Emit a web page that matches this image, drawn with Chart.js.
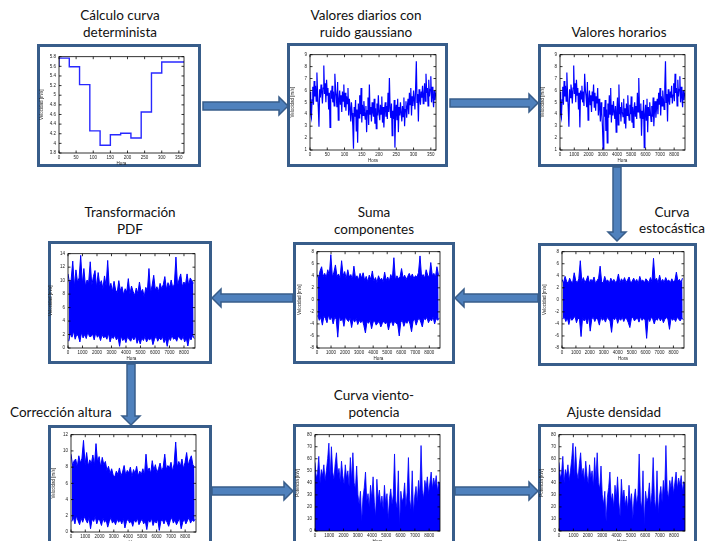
<!DOCTYPE html>
<html><head><meta charset="utf-8">
<script src="https://cdn.jsdelivr.net/npm/chart.js@4/dist/chart.umd.min.js"></script>
<style>
html,body{margin:0;padding:0;background:#fff;width:705px;height:541px;overflow:hidden;position:relative;font-family:Lato,"Open Sans",sans-serif;}
.frame{position:absolute;box-sizing:border-box;border:3px solid #385D8A;background:#fff;}
.t{position:absolute;font-size:13.5px;color:#111;line-height:17px;text-align:center;white-space:nowrap;width:200px;}
canvas{position:absolute;}
svg{position:absolute;left:0;top:0;}
</style></head><body>
<div class="frame" style="left:37px;top:44px;width:164px;height:123px"></div>
<div class="frame" style="left:287px;top:43px;width:161px;height:124px"></div>
<div class="frame" style="left:538px;top:44px;width:159px;height:123px"></div>
<div class="frame" style="left:48px;top:241px;width:164px;height:123px"></div>
<div class="frame" style="left:293px;top:242px;width:162px;height:122px"></div>
<div class="frame" style="left:538px;top:243px;width:159px;height:123px"></div>
<div class="frame" style="left:48px;top:425px;width:164px;height:130px"></div>
<div class="frame" style="left:293px;top:424px;width:162px;height:130px"></div>
<div class="frame" style="left:538px;top:424px;width:159px;height:130px"></div>

<svg width="705" height="541">
<g fill="#4F81BD" stroke="#385D8A" stroke-width="1.5">
<polygon points="203,102 279,102 279,97 288,106 279,115 279,110 203,110"/>
<polygon points="450,99 529,99 529,94 538,103 529,112 529,107 450,107"/>
<polygon points="613,167 621,167 621,232 626,232 617,241 608,232 613,232"/>
<polygon points="538,294 464,294 464,289 455,298 464,307 464,302 538,302"/>
<polygon points="293,294 221,294 221,289 212,298 221,307 221,302 293,302"/>
<polygon points="127,364 135,364 135,416 140,416 131,425 122,416 127,416"/>
<polygon points="212,487 284,487 284,482 293,491 284,500 284,495 212,495"/>
<polygon points="455,487 529,487 529,482 538,491 529,500 529,495 455,495"/>
</g></svg>

<div class="t" style="left:20px;top:7px">Cálculo curva<br>determinista</div>
<div class="t" style="left:266px;top:7px">Valores diarios con<br>ruido gaussiano</div>
<div class="t" style="left:519px;top:24px">Valores horarios</div>
<div class="t" style="left:30px;top:204px">Transformación<br>PDF</div>
<div class="t" style="left:274px;top:204px">Suma<br>componentes</div>
<div class="t" style="left:572px;top:204px;line-height:16px">Curva<br>estocástica</div>
<div class="t" style="left:10px;top:404px;text-align:left">Corrección altura</div>
<div class="t" style="left:274px;top:387px">Curva viento-<br>potencia</div>
<div class="t" style="left:514px;top:404px">Ajuste densidad</div>

<script>
// ---- data ----
const detDays  = [0,30,60,90,120,150,180,210,240,270,300,330,365];
const detSpeed = [5.59,5.77,5.59,5.22,4.26,3.96,4.18,4.21,4.11,4.65,5.46,5.69,5.69];

const dailyWind = [
5.9,4.0,3.7,5.2,6.3,4.8,6.8,5.5,6.4,5.1,7.5,
5.8,4.6,2.95,6.1,5.4,6.5,5.9,4.9,6.2,8.1,
5.7,6.6,5.0,6.9,5.6,6.2,4.4,5.8,2.9,6.0,
5.3,6.4,5.0,5.9,4.7,7.4,6.1,5.5,4.6,6.7,
3.5,5.2,6.0,4.8,5.6,4.2,5.9,5.1,6.5,4.6,
5.8,4.3,5.5,4.9,6.2,3.9,5.3,4.5,3.4,5.0,
4.1,3.0,1.1,4.6,3.8,5.2,2.6,4.4,1.6,4.9,
3.7,5.6,4.0,6.2,3.3,4.8,3.9,5.1,4.2,3.6,
4.7,2.5,4.3,5.4,3.1,6.5,4.0,4.6,3.4,5.0,
4.2,3.8,5.3,3.2,4.5,2.8,4.9,3.9,5.6,4.1,
3.5,4.8,4.0,5.5,3.3,4.6,2.9,4.4,5.0,3.8,
4.7,3.6,5.8,4.2,7.05,4.5,3.7,4.9,2.2,4.3,
3.6,5.2,1.2,4.0,4.8,3.5,5.3,2.5,4.6,3.9,
5.0,4.1,3.4,4.7,3.8,5.4,3.0,4.4,5.1,3.7,
4.6,5.3,4.0,5.8,4.8,6.2,3.9,5.5,4.7,6.0,
5.2,4.4,6.3,8.45,5.0,5.7,3.4,6.1,5.3,4.8,
5.9,5.4,6.4,4.9,5.6,6.6,5.1,7.4,5.8,6.2,
4.7,6.9,5.5,6.1,7.2,5.0,6.3,5.4,4.6,6.0,5.2,5.8];

const pdfUpper = [
11.0,9.6,10.2,12.9,9.1,11.6,9.8,10.4,13.75,9.5,
11.8,9.2,10.1,9.7,12.8,9.3,10.6,11.5,9.0,11.2,
9.4,10.0,8.8,10.7,9.2,13.0,8.9,9.6,8.4,9.9,
8.6,8.2,10.0,8.5,9.1,7.9,8.8,8.3,10.3,8.0,
9.2,8.4,7.8,8.9,8.1,9.8,8.3,8.7,7.6,9.0,
8.5,11.8,8.2,9.3,10.8,8.6,9.1,8.4,9.6,8.8,
9.4,10.6,8.7,9.7,9.0,10.1,8.9,9.5,13.5,9.2,
10.2,11.0,9.1,9.8,9.4,11.0,9.3,10.4,10.0,9.6];
const pdfLower = [
1.0,2.2,1.6,2.5,1.3,2.0,1.8,0.9,2.3,1.5,
2.0,1.4,2.4,1.7,1.7,2.1,1.2,2.3,1.6,1.9,
1.1,2.0,1.5,1.8,1.3,2.2,0.9,1.7,1.4,1.9,
1.2,1.6,0.25,1.8,1.1,1.5,0.8,1.7,1.3,1.0,
1.6,1.2,1.8,0.7,1.4,0.6,1.5,1.1,1.7,0.9,
1.4,1.2,1.6,0.5,1.3,1.8,1.0,1.5,1.2,1.7,
0.8,1.4,0.25,1.6,1.1,1.9,1.3,1.5,1.0,1.8,
1.4,1.2,1.7,0.9,1.5,0.3,1.6,1.2,1.9,1.4];

const sumUpper = [
4.2,3.6,4.8,5.5,3.9,4.4,3.7,5.0,4.1,7.5,
3.8,4.6,5.8,3.9,4.3,3.6,6.5,4.0,4.7,3.5,
5.0,3.8,4.2,3.4,5.6,3.7,4.0,3.3,4.4,3.6,
4.5,3.2,3.9,3.0,4.1,3.4,4.8,3.1,3.7,2.9,
4.0,3.3,3.6,3.0,4.6,3.2,3.8,3.1,4.2,3.4,
7.0,3.3,4.0,3.5,3.8,5.2,3.6,4.1,3.4,3.9,
4.4,3.7,4.3,3.5,4.0,3.8,4.5,7.3,3.9,4.2,
3.6,5.0,4.1,3.8,6.2,4.0,4.4,3.7,5.5,4.1];
const sumLower = [
-2.6,-3.4,-2.9,-4.2,-2.7,-3.1,-3.8,-2.5,-3.3,-2.8,
-4.0,-2.9,-3.2,-6.2,-2.7,-3.5,-3.0,-4.4,-2.8,-3.3,
-3.6,-3.0,-4.6,-3.2,-3.7,-3.1,-4.1,-3.4,-3.8,-3.3,
-4.3,-5.5,-3.6,-3.9,-3.4,-4.8,-3.7,-3.5,-4.2,-3.8,
-3.6,-4.5,-3.9,-3.5,-4.0,-3.7,-5.0,-3.8,-3.6,-4.3,
-3.5,-3.9,-4.1,-6.0,-3.7,-3.4,-4.4,-3.6,-3.9,-3.3,
-4.0,-5.3,-3.5,-3.2,-4.2,-3.4,-3.0,-3.7,-4.5,-3.1,
-3.3,-2.9,-3.8,-3.2,-3.5,-2.8,-4.0,-3.1,-3.4,-3.0];

const stoUpper = [
3.4,2.8,3.9,3.1,2.7,3.6,3.0,2.9,4.5,3.2,
2.8,3.5,6.5,3.0,3.7,2.9,3.3,4.0,2.8,3.4,
3.1,3.8,2.7,3.2,3.6,5.6,3.0,2.8,3.9,3.1,
3.3,2.7,3.6,3.0,3.4,2.9,3.2,4.3,2.8,3.5,
3.0,3.7,2.9,3.3,3.8,2.8,3.1,3.6,3.0,3.4,
2.7,3.9,3.1,3.3,2.8,3.5,3.2,2.9,3.7,3.0,
6.9,3.3,3.6,2.8,4.1,3.0,3.4,2.9,3.7,3.1,
3.3,2.8,3.5,3.0,3.2,4.6,3.1,3.4,2.9,3.6];
const stoLower = [
-3.2,-2.8,-3.6,-3.0,-4.1,-2.9,-3.4,-3.1,-2.7,-3.8,
-3.0,-3.3,-6.1,-2.9,-3.5,-3.1,-4.0,-2.8,-5.2,-3.2,
-2.9,-3.6,-3.0,-3.3,-4.2,-2.8,-3.4,-3.1,-3.7,-2.9,
-3.2,-3.5,-5.4,-3.0,-3.3,-2.8,-3.9,-3.1,-3.4,-2.9,
-3.6,-3.0,-3.2,-3.8,-4.6,-3.1,-2.9,-3.5,-3.2,-3.0,
-3.7,-2.8,-3.4,-3.1,-3.3,-6.4,-3.0,-3.6,-2.9,-3.2,
-4.0,-3.1,-3.4,-2.8,-3.5,-3.0,-3.8,-3.2,-2.9,-3.3,
-4.9,-3.0,-3.4,-3.1,-3.6,-2.9,-3.2,-3.5,-3.0,-3.3];

const hgtUpper = [
9.6,8.2,8.8,9.0,8.0,9.4,8.5,9.1,11.3,8.3,
9.8,8.1,8.9,8.4,9.5,8.2,10.9,8.6,9.3,8.0,
9.2,8.3,8.7,7.6,8.1,7.2,7.8,7.0,6.8,7.5,
7.1,7.9,6.9,7.4,8.2,7.0,7.6,7.3,8.0,6.8,
7.7,7.2,8.1,6.9,7.5,7.1,7.8,7.0,9.6,7.4,
7.9,7.2,8.8,7.6,8.3,7.3,7.8,8.5,7.5,8.0,
9.6,7.7,8.2,7.9,8.6,7.5,8.4,11.1,8.0,8.7,
8.1,9.0,7.8,8.6,9.8,8.2,8.9,9.4,8.3,8.0];
const hgtLower = [
1.3,1.8,1.0,2.0,1.4,0.9,1.7,1.2,1.9,1.5,
1.1,1.8,0.4,1.6,1.3,1.9,1.0,1.6,1.4,0.8,
1.7,1.2,1.5,0.6,1.3,1.8,1.1,1.4,0.9,1.6,
1.2,1.5,1.0,1.7,0.5,1.3,1.6,1.1,1.4,0.7,
1.5,1.2,1.7,0.9,1.3,1.6,1.0,1.4,0.3,1.5,
1.2,1.7,0.8,1.4,1.1,1.6,0.2,1.3,1.5,1.0,
1.6,1.2,0.7,1.4,1.8,1.1,1.5,0.9,1.3,1.7,
0.4,1.2,1.6,1.0,1.4,1.8,1.1,1.5,1.3,1.6];

const powerKW = [
57,44,48,62,40,51,46,55,42,50,
60,73,45,70,49,43,56,65,47,52,
41,58,46,39,55,44,50,37,61,42,
65,40,35,54,30,22,33,8,28,36,
49,25,31,20,38,27,45,24,12,43,
26,34,21,29,18,38,23,31,10,27,
35,22,30,64,25,19,50,5,33,24,
28,40,20,32,61,26,18,50,15,29,
37,24,42,30,71,34,27,42,36,45,
31,40,49,35,44,38,46,33,41,39];

// ticks
const dayTicks   = [0,50,100,150,200,250,300,350];
const hourTicks  = [0,1000,2000,3000,4000,5000,6000,7000,8000];
const detTicks   = [3.8,4,4.2,4.4,4.6,4.8,5,5.2,5.4,5.6,5.8];
const windTicks  = [1,2,3,4,5,6,7,8,9];
const pdfTicks   = [0,2,4,6,8,10,12,14];
const compTicks  = [-8,-6,-4,-2,0,2,4,6,8];
const hgtTicks   = [0,2,4,6,8,10,12];
const powerTicks = [0,10,20,30,40,50,60,70,80];

// ---- drawing ----
const BLUE = 'rgb(0,0,255)';
const ML=22, MT=5, MR=6, MB=14;
const boxTicks = {
  id:'boxTicks',
  afterDatasetsDraw(chart){
    const {ctx, chartArea:a, scales:{x,y}} = chart;
    ctx.save();
    ctx.strokeStyle='#000'; ctx.lineWidth=0.8;
    ctx.strokeRect(a.left, a.top, a.width, a.height);
    const L=2.5;
    ctx.beginPath();
    x.ticks.forEach(t=>{const p=x.getPixelForValue(t.value);
      ctx.moveTo(p,a.bottom); ctx.lineTo(p,a.bottom-L);
      ctx.moveTo(p,a.top); ctx.lineTo(p,a.top+L);});
    y.ticks.forEach(t=>{const p=y.getPixelForValue(t.value);
      ctx.moveTo(a.left,p); ctx.lineTo(a.left+L,p);
      ctx.moveTo(a.right,p); ctx.lineTo(a.right-L,p);});
    ctx.stroke();
    ctx.restore();
  }
};

function mini(rect, xc, yc, datasets){
  const c=document.createElement('canvas');
  const W=rect.w+ML+MR, H=rect.h+MT+MB;
  c.width=W; c.height=H;
  c.style.left=(rect.x-ML)+'px'; c.style.top=(rect.y-MT)+'px';
  c.style.width=W+'px'; c.style.height=H+'px';
  document.body.appendChild(c);
  const f={size:4.5, family:'Arial, "Liberation Sans", sans-serif'};
  new Chart(c,{type:'line',data:{datasets},options:{
    responsive:false, animation:false, devicePixelRatio:1,
    layout:{padding:{top:MT,right:MR,left:0,bottom:0}},
    plugins:{legend:{display:false},tooltip:{enabled:false}},
    elements:{point:{radius:0},line:{tension:0}},
    scales:{
      x:{type:'linear',min:xc.min,max:xc.max,grid:{display:false,drawTicks:false},border:{display:false},
        afterBuildTicks:s=>{s.ticks=xc.ticks.map(v=>({value:v}));},
        afterFit:s=>{s.height=MB;},
        ticks:{font:f,color:'#222',padding:2,maxRotation:0,autoSkip:false,callback:v=>String(v)},
        title:{display:true,text:'Hora',font:f,color:'#222',padding:{top:0,bottom:1}}},
      y:{type:'linear',min:yc.min,max:yc.max,grid:{display:false,drawTicks:false},border:{display:false},
        afterBuildTicks:s=>{s.ticks=yc.ticks.map(v=>({value:v}));},
        afterFit:s=>{s.width=ML;},
        ticks:{font:f,color:'#222',padding:3,autoSkip:false,callback:v=>String(v)},
        title:{display:true,text:yc.title,font:f,color:'#222',padding:{top:2,bottom:0}}}
    }
  },plugins:[boxTicks]});
}

// band: upper envelope line + lower envelope filled back to it
function band(upper, lower, xmax){
  const step = xmax/upper.length;
  return [
    {data:upper.map((u,i)=>({x:i*step,y:u})),borderColor:BLUE,borderWidth:1,fill:false},
    {data:lower.map((l,i)=>({x:i*step+step/2,y:l})),borderColor:BLUE,borderWidth:1,backgroundColor:BLUE,fill:'-1'}
  ];
}

const V='Velocidad [m/s]', P='Potencia [kW]';
const xDay={min:0,max:365,ticks:dayTicks}, xHour={min:0,max:8760,ticks:hourTicks};

mini({x:59,y:56,w:125,h:97}, xDay, {min:3.8,max:5.8,ticks:detTicks,title:V},
  [{data:detDays.map((d,i)=>({x:d,y:detSpeed[i]})),stepped:'after',borderColor:'rgb(40,40,255)',borderWidth:1.4,fill:false}]);
mini({x:310,y:54,w:126,h:96}, xDay, {min:1,max:9,ticks:windTicks,title:V},
  [{data:dailyWind.map((v,i)=>({x:i*2,y:v})),borderColor:BLUE,borderWidth:1.2,fill:false}]);
mini({x:560,y:54,w:125,h:96}, xHour, {min:1,max:9,ticks:windTicks,title:V},
  [{data:dailyWind.map((v,i)=>({x:i*48,y:v})),borderColor:BLUE,borderWidth:1.2,fill:false}]);
mini({x:68,y:253,w:127,h:95}, xHour, {min:0,max:14,ticks:pdfTicks,title:V}, band(pdfUpper,pdfLower,8760));
mini({x:317,y:251,w:123,h:97}, xHour, {min:-8,max:8,ticks:compTicks,title:V}, band(sumUpper,sumLower,8760));
mini({x:562,y:251,w:122,h:97}, xHour, {min:-8,max:8,ticks:compTicks,title:V}, band(stoUpper,stoLower,8760));
mini({x:71,y:434,w:125,h:98}, xHour, {min:0,max:12,ticks:hgtTicks,title:V}, band(hgtUpper,hgtLower,8760));
const powerSet = ()=>[{data:powerKW.map((v,i)=>({x:i*8760/(powerKW.length-1),y:v})),borderColor:BLUE,borderWidth:0.8,backgroundColor:BLUE,fill:'origin'}];
mini({x:315,y:434,w:125,h:97}, xHour, {min:0,max:80,ticks:powerTicks,title:P}, powerSet());
mini({x:559,y:434,w:126,h:97}, xHour, {min:0,max:80,ticks:powerTicks,title:P}, powerSet());
</script>
</body></html>
